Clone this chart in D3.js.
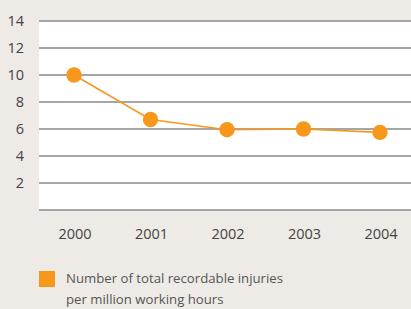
<!DOCTYPE html>
<html>
<head>
<script src="https://d3js.org/d3.v7.min.js"></script>
<style>
  body { margin: 0; background: #eeebe6; }
  svg { display: block; }
</style>
</head>
<body>
<div id="chart"></div>
<script>
var years = ["2000", "2001", "2002", "2003", "2004"];
var injuries = [10.0, 6.7, 5.95, 6.0, 5.75];
var yTicks = [2, 4, 6, 8, 10, 12, 14];
var legendLines = ["Number of total recordable injuries", "per million working hours"];

var W = 411, H = 309;
var plot = {left: 39, right: 411, top: 21, bottom: 210};
var orange = "#f7981d";
var font = '"Open Sans", sans-serif';

var svg = d3.select("#chart").append("svg")
    .attr("width", W)
    .attr("height", H);

svg.append("rect")
    .attr("width", W).attr("height", H)
    .attr("fill", "#eeebe6");

// white plot area
svg.append("rect")
    .attr("x", plot.left).attr("y", plot.top)
    .attr("width", plot.right - plot.left)
    .attr("height", plot.bottom - plot.top)
    .attr("fill", "#ffffff");

var x = d3.scalePoint().domain(years).range([74, 380]);
var y = d3.scaleLinear().domain([0, 14]).range([plot.bottom, plot.top]);

// gridlines incl. baseline
svg.append("g").selectAll("line")
    .data([0].concat(yTicks))
    .join("line")
    .attr("x1", plot.left).attr("x2", plot.right)
    .attr("y1", d => y(d)).attr("y2", d => y(d))
    .attr("stroke", "#a6a6a9")
    .attr("stroke-width", 2);

// y labels
svg.append("g").selectAll("text")
    .data(yTicks)
    .join("text")
    .attr("x", 24)
    .attr("y", d => y(d))
    .attr("dy", "0.35em")
    .attr("text-anchor", "end")
    .style("font-family", font)
    .style("font-size", "14.5px")
    .attr("fill", "#444")
    .text(d => d);

// x labels
svg.append("g").selectAll("text")
    .data(years)
    .join("text")
    .attr("x", d => x(d) + 1)
    .attr("y", 239)
    .attr("text-anchor", "middle")
    .style("font-family", font)
    .style("font-size", "14.5px")
    .attr("fill", "#444")
    .text(d => d);

var pts = years.map((yr, i) => ({yr: yr, v: injuries[i]}));

svg.append("path")
    .datum(pts)
    .attr("d", d3.line().x(d => x(d.yr)).y(d => y(d.v)))
    .attr("fill", "none")
    .attr("stroke", orange)
    .attr("stroke-width", 1.6);

svg.append("g").selectAll("circle")
    .data(pts)
    .join("circle")
    .attr("cx", d => x(d.yr))
    .attr("cy", d => y(d.v))
    .attr("r", 7.7)
    .attr("fill", orange);

// legend
svg.append("rect")
    .attr("x", 39).attr("y", 271)
    .attr("width", 16).attr("height", 16)
    .attr("fill", orange);

svg.append("g").selectAll("text")
    .data(legendLines)
    .join("text")
    .attr("x", 66)
    .attr("y", (d, i) => 283 + i * 21)
    .style("font-family", font)
    .style("font-size", "13.2px")
    .attr("fill", "#555")
    .text(d => d);
</script>
</body>
</html>
